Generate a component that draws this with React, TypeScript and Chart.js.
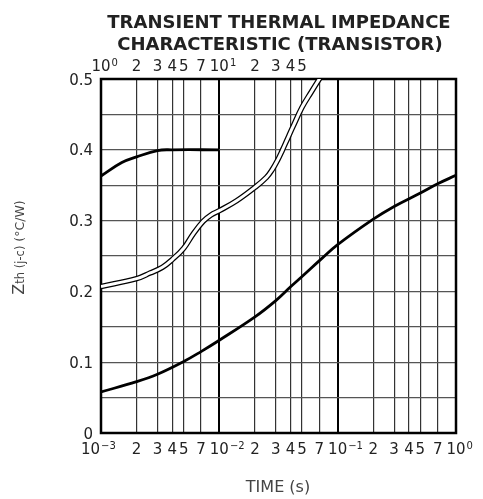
import React, { useEffect, useRef } from "react";
import { Chart, registerables } from "chart.js";

Chart.register(...registerables);

// ---- data ----
const bottomTicks = [0.001, 0.002, 0.003, 0.004, 0.005, 0.007, 0.01, 0.02, 0.03, 0.04, 0.05, 0.07, 0.1, 0.2, 0.3, 0.4, 0.5, 0.7, 1];
const topTicks = [1, 2, 3, 4, 5, 7, 10, 20, 30, 40, 50];
const yLabels = [0, 0.1, 0.2, 0.3, 0.4, 0.5];

// lower curve (bottom time axis, 1e-3 .. 1 s)
const curveATime = [0.001, 0.002, 0.003, 0.005, 0.007, 0.01, 0.02, 0.03, 0.04, 0.05, 0.074, 0.1, 0.2, 0.3, 0.5, 0.7, 1];
const curveAZth = [0.058, 0.0725, 0.083, 0.101, 0.115, 0.131, 0.164, 0.187, 0.2065, 0.221, 0.247, 0.266, 0.302, 0.32, 0.339, 0.352, 0.364];

// double-line curve (top time axis, 1 .. 1000 s)
const curveBTime = [1, 2, 2.6, 3.3, 4, 5, 6, 7.3, 8.5, 10, 14, 20, 25, 28, 31, 34, 38, 42, 50, 60, 70, 80];
const curveBZth = [0.207, 0.218, 0.226, 0.234, 0.245, 0.261, 0.281, 0.299, 0.308, 0.314, 0.328, 0.347, 0.361, 0.372, 0.385, 0.399, 0.417, 0.433, 0.46, 0.482, 0.5, 0.515];

// upper-left curve (top time axis)
const curveCTime = [1, 1.5, 2, 3, 4, 10];
const curveCZth = [0.363, 0.382, 0.39, 0.399, 0.4, 0.4];

const titleLines = ["TRANSIENT THERMAL IMPEDANCE", "CHARACTERISTIC (TRANSISTOR)"];
const xTitle = "TIME (s)";

const FONT = "'DejaVu Sans', 'Liberation Sans', Arial, sans-serif";

function isDecade(v: number) {
  const e = Math.log10(v);
  return Math.abs(e - Math.round(e)) < 1e-6;
}

function tickParts(v: number): { base: string; sup: string } {
  const e = Math.log10(v);
  if (isDecade(v)) {
    const n = Math.round(e);
    return { base: "10", sup: n < 0 ? "\u2212" + String(-n) : String(n) };
  }
  const m = Math.round(v / Math.pow(10, Math.floor(e + 1e-9)));
  return { base: String(m), sup: "" };
}

function drawTickLabel(ctx: CanvasRenderingContext2D, px: number, baseline: number, v: number, first: boolean) {
  const { base, sup } = tickParts(v);
  ctx.font = `15px ${FONT}`;
  const w = ctx.measureText(base).width;
  let x0 = px - w / 2;
  if (first && sup && sup.startsWith("\u2212")) x0 = px - w - 1;
  ctx.textAlign = "left";
  ctx.textBaseline = "alphabetic";
  ctx.fillText(base, x0, baseline);
  if (sup) {
    ctx.font = `10px ${FONT}`;
    ctx.fillText(sup, x0 + w + 1, baseline - 5);
  }
}

const textPlugin = {
  id: "textPlugin",
  beforeDatasetsDraw(chart: any) {
    const { ctx, chartArea } = chart;
    ctx.save();
    ctx.strokeStyle = "#000";
    ctx.lineWidth = 2.5;
    ctx.strokeRect(chartArea.left, chartArea.top, chartArea.right - chartArea.left, chartArea.bottom - chartArea.top);
    ctx.restore();
  },
  afterDraw(chart: any) {
    const { ctx } = chart;
    const xs = chart.scales.x;
    const xt = chart.scales.xTop;
    const ys = chart.scales.y;
    ctx.save();
    ctx.fillStyle = "#222";
    // title
    ctx.font = `bold 18px ${FONT}`;
    ctx.textAlign = "center";
    ctx.textBaseline = "alphabetic";
    ctx.fillText(titleLines[0], 279, 28);
    ctx.fillText(titleLines[1], 280, 50);

    // bottom ticks
    bottomTicks.forEach((v, i) => drawTickLabel(ctx, xs.getPixelForValue(v), 453.5, v, i === 0));
    // top ticks
    topTicks.forEach((v) => drawTickLabel(ctx, xt.getPixelForValue(v), 70.5, v, false));

    // y ticks
    ctx.font = `15px ${FONT}`;
    ctx.textAlign = "right";
    ctx.textBaseline = "alphabetic";
    yLabels.forEach((v) => {
      ctx.fillText(v === 0 ? "0" : v.toFixed(1), 93, ys.getPixelForValue(v) + 5.5);
    });

    // x title
    ctx.fillStyle = "#444";
    ctx.font = `16px ${FONT}`;
    ctx.textAlign = "center";
    ctx.fillText(xTitle, 278, 492);

    // y title
    ctx.save();
    ctx.translate(24, 0);
    ctx.rotate(-Math.PI / 2);
    ctx.textAlign = "left";
    ctx.textBaseline = "alphabetic";
    const parts: [string, number][] = [["Z", 16], ["th (j-c)", 11.5], [" (\u00B0C/W)", 12.5]];
    let total = 0;
    parts.forEach(([t, s]) => {
      ctx.font = `${s}px ${FONT}`;
      total += ctx.measureText(t).width;
    });
    let pos = -(247.5 + total / 2);
    parts.forEach(([t, s]) => {
      ctx.font = `${s}px ${FONT}`;
      ctx.fillText(t, pos, 0);
      pos += ctx.measureText(t).width;
    });
    ctx.restore();
    ctx.restore();
  },
};

export default function App() {
  const ref = useRef<HTMLCanvasElement | null>(null);
  useEffect(() => {
    if (!ref.current) return;
    const toXY = (xs: number[], ys: number[]) => xs.map((x, i) => ({ x, y: ys[i] }));
    const chart = new Chart(ref.current, {
      type: "line",
      data: {
        datasets: [
          {
            label: "Transistor",
            data: toXY(curveATime, curveAZth),
            xAxisID: "x",
            borderColor: "#000",
            borderWidth: 2.8,
            pointRadius: 0,
            tension: 0.4,
            order: 1,
          },
          {
            label: "Curve B outline",
            data: toXY(curveBTime, curveBZth),
            xAxisID: "xTop",
            borderColor: "#000",
            borderWidth: 5.5,
            pointRadius: 0,
            tension: 0.4,
            order: 3,
          },
          {
            label: "Curve B",
            data: toXY(curveBTime, curveBZth),
            xAxisID: "xTop",
            borderColor: "#fff",
            borderWidth: 3,
            pointRadius: 0,
            tension: 0.4,
            order: 2,
          },
          {
            label: "Curve C",
            data: toXY(curveCTime, curveCZth),
            xAxisID: "xTop",
            borderColor: "#000",
            borderWidth: 2.8,
            pointRadius: 0,
            tension: 0.4,
            order: 1,
          },
        ],
      },
      options: {
        animation: false,
        responsive: false,
        devicePixelRatio: 1,
        layout: { padding: { left: 101, right: 27, top: 79, bottom: 66 } },
        plugins: { legend: { display: false }, tooltip: { enabled: false }, title: { display: false } },
        scales: {
          x: {
            type: "logarithmic",
            min: 0.001,
            max: 1,
            afterBuildTicks: (scale: any) => {
              scale.ticks = bottomTicks.map((v) => ({ value: v }));
            },
            ticks: { display: false, autoSkip: false },
            border: { display: false },
            grid: {
              drawTicks: false,
              color: (c: any) => (c.tick && isDecade(c.tick.value) ? "#000" : "#333"),
              lineWidth: (c: any) => (c.tick && isDecade(c.tick.value) ? 2 : 1.2),
            },
          },
          xTop: {
            type: "logarithmic",
            position: "top",
            min: 1,
            max: 1000,
            display: false,
          },
          y: {
            type: "linear",
            min: 0,
            max: 0.5,
            ticks: { display: false, stepSize: 0.05 },
            border: { display: false },
            grid: { drawTicks: false, color: "#555", lineWidth: 1.3 },
          },
        },
      } as any,
      plugins: [textPlugin],
    });
    return () => chart.destroy();
  }, []);
  return (
    <div style={{ position: "absolute", left: 0, top: 0, width: 483, height: 499, background: "#fff" }}>
      <canvas ref={ref} width={483} height={499} style={{ display: "block" }} />
    </div>
  );
}
